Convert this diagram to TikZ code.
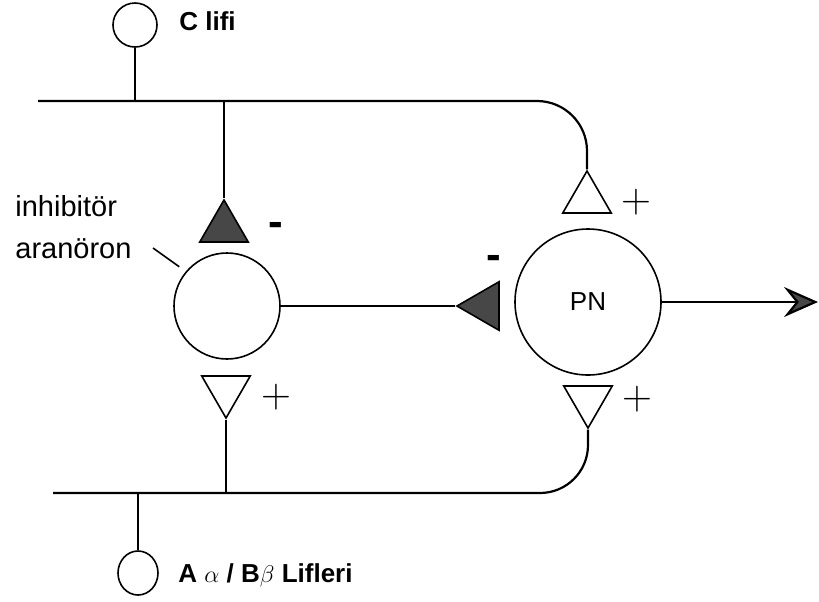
\documentclass[tikz,border=0pt]{standalone}
\usepackage{fontspec}
\setmainfont{Liberation Sans}
\usetikzlibrary{arrows.meta, shapes.geometric, positioning}

\begin{document}
\begin{tikzpicture}[x=0.5pt, y=-0.5pt,
    fibre/.style={line width=1.1pt},
    soma/.style={circle, draw, line width=0.8pt, inner sep=0pt},
    synbox/.style={regular polygon, regular polygon sides=3, draw, line width=0.8pt, inner sep=0pt, minimum size=28pt},
    excsyn/.style={synbox, fill=white},
    inhsyn/.style={synbox, fill=black!72},
    plussign/.style={font=\fontsize{20.74}{20.74}\selectfont, inner sep=0pt},
    minussign/.style={font=\bfseries\fontsize{22}{22}\selectfont, inner sep=0pt},
    fibrename/.style={font=\bfseries\fontsize{13}{15}\selectfont, inner sep=0pt, anchor=west}]
    \useasboundingbox (0,0) rectangle (819,601);
    % Afferent fibres
    \node[soma, minimum size=22pt] (cfib) at (135,25) {};
    \node[fibrename] (cname) at (179,21) {C lifi};
    \node[ellipse, draw, line width=0.8pt, inner sep=0pt, minimum width=20pt, minimum height=22pt] (afib) at (138,573) {};
    \node[fibrename] (aname) at (178,575) {A $\alpha$ / B$\beta$ Lifleri};
    \coordinate (topL) at (38,101);
    \coordinate (botL) at (53,493);
    % Neurons
    \node[soma, minimum size=53pt] (inh) at (227,306) {};
    \node[soma, minimum size=73pt, font=\fontsize{13}{13}\selectfont] (pn) at (588,302) {PN};
    \node[anchor=north west, align=left, inner sep=0pt, font=\fontsize{14.5}{21}\selectfont] (inhname) at (15,195) {inhibitör\\aranöron};
    \coordinate (ptr) at (153,248);
    % Synapses
    \node[inhsyn] (synTL) at (224,228) {};
    \node[excsyn] (synTR) at (587,199) {};
    \node[inhsyn, shape border rotate=90] (synM) at (485,306) {};
    \node[excsyn, shape border rotate=180] (synBL) at (226,390) {};
    \node[excsyn, shape border rotate=180] (synBR) at (588,400) {};
    % Signs
    \node[minussign] (mTL) at (276,229) {-};
    \node[plussign] (pTR) at (636,202) {$+$};
    \node[minussign] (mM) at (494,262) {-};
    \node[plussign] (pBL) at (276,397) {$+$};
    \node[plussign] (pBR) at (637,399) {$+$};
    % C fibre
    \draw[fibre, rounded corners=25pt] (topL) -| (synTR.corner 1);
    \draw[fibre] (cfib) -- (cfib |- topL);
    \draw[fibre] (synTL.corner 1 |- topL) -- (synTL.corner 1);
    % A fibres
    \draw[fibre, rounded corners=24pt] (botL) -| (synBR.corner 1);
    \draw[fibre] (afib) -- (afib |- botL);
    \draw[fibre] (synBL.corner 1 |- botL) -- (synBL.corner 1);
    % Interneuron to PN, output
    \draw[fibre] (inh) -- (synM.corner 1);
    \coordinate (out) at (818,302);
    \draw[fibre, -{Stealth[length=17pt, width=15pt, inset=6pt, fill=black!72]}] (pn) -- (out);
    \draw[line width=0.8pt, shorten >=4pt] (ptr) -- (inh.140);
\end{tikzpicture}
\end{document}
